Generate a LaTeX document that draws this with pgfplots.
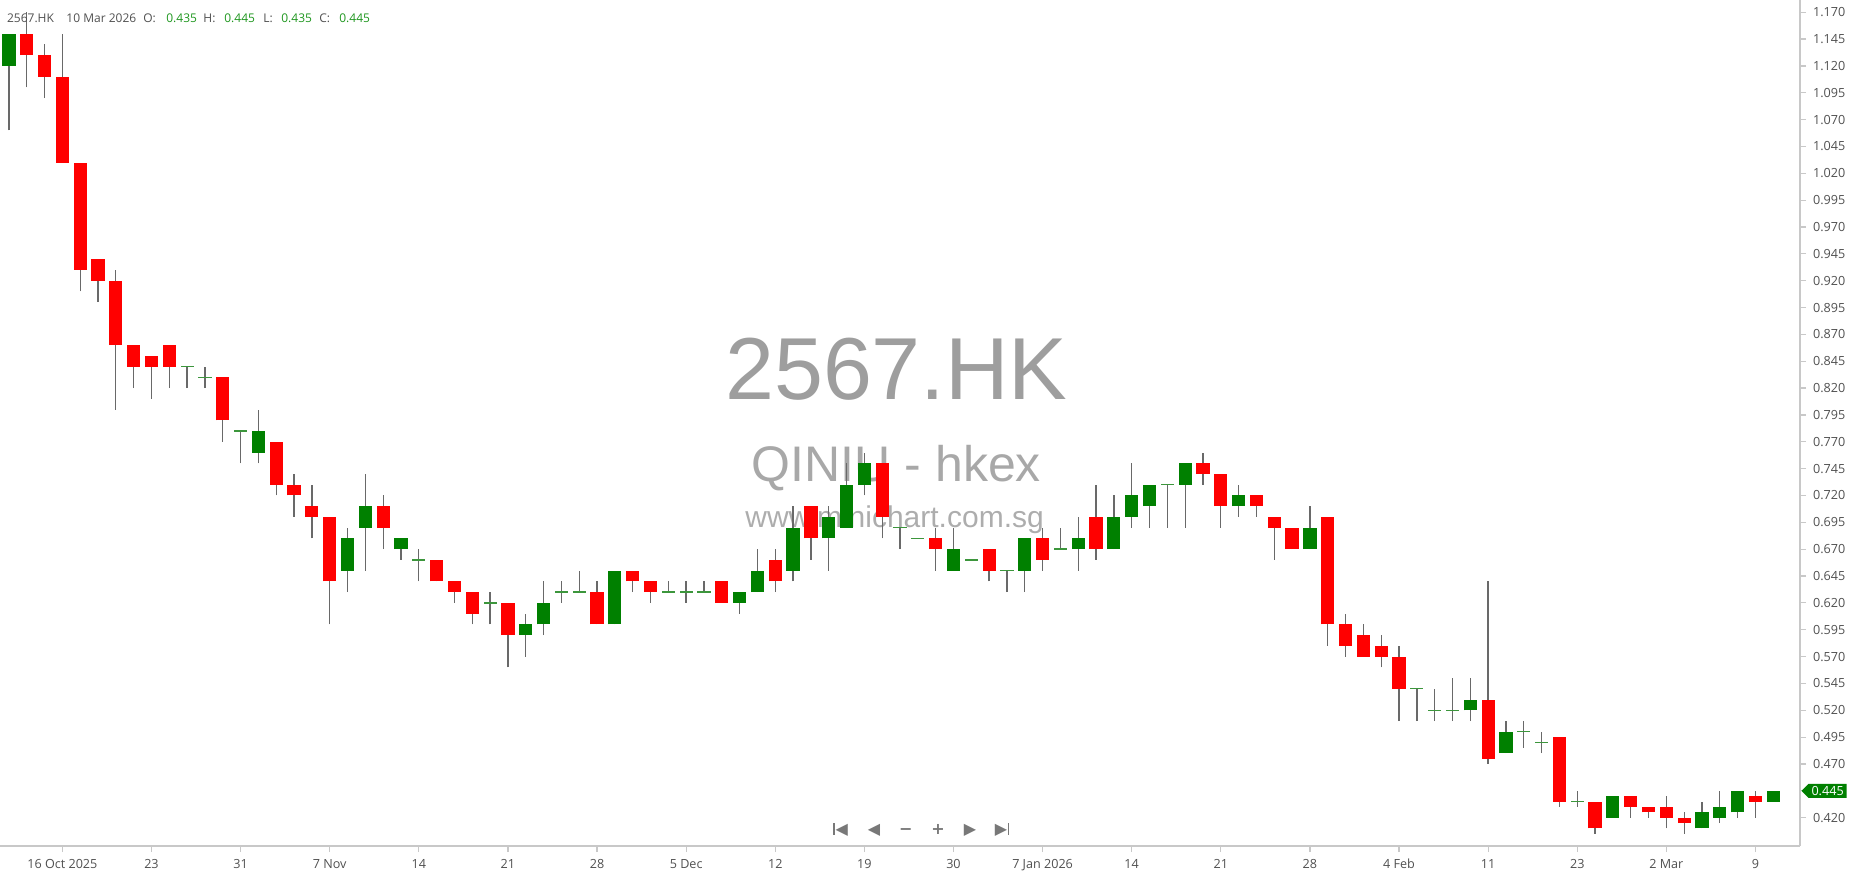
\documentclass[border=0pt]{standalone}
\usepackage{fontspec}
\setmainfont{Open Sans}
\newfontfamily\wmfont{Liberation Sans}
\newfontfamily\symfont{DejaVu Sans}
\usepackage{pgfplots}
\usepackage{pgfplotstable}
\pgfplotsset{compat=1.18}
\usetikzlibrary{shapes.symbols}

\definecolor{upgreen}{RGB}{0,128,0}
\definecolor{downred}{RGB}{255,0,0}
\definecolor{wick}{RGB}{105,105,105}
\definecolor{dojigreen}{RGB}{60,150,60}
\definecolor{axisgray}{RGB}{200,200,200}
\definecolor{labelgray}{RGB}{80,80,80}
\definecolor{hdrgreen}{RGB}{30,150,30}
\definecolor{wmgray}{RGB}{158,158,158}
\definecolor{navgray}{RGB}{120,120,120}

% daily candles, 13 Oct 2025 .. 10 Mar 2026 (trading-day index i)
\pgfplotstableread{
i  o     h     l     c
0  1.12  1.15  1.06  1.15
1  1.15  1.17  1.10  1.13
2  1.13  1.14  1.09  1.11
3  1.11  1.15  1.03  1.03
4  1.03  1.03  0.91  0.93
5  0.94  0.94  0.90  0.92
6  0.92  0.93  0.80  0.86
7  0.86  0.86  0.82  0.84
8  0.85  0.85  0.81  0.84
9  0.86  0.86  0.82  0.84
10 0.84  0.84  0.82  0.84
11 0.83  0.84  0.82  0.83
12 0.83  0.83  0.77  0.79
13 0.78  0.78  0.75  0.78
14 0.76  0.80  0.75  0.78
15 0.77  0.77  0.72  0.73
16 0.73  0.74  0.70  0.72
17 0.71  0.73  0.68  0.70
18 0.70  0.70  0.60  0.64
19 0.65  0.69  0.63  0.68
20 0.69  0.74  0.65  0.71
21 0.71  0.72  0.67  0.69
22 0.67  0.68  0.66  0.68
23 0.66  0.67  0.64  0.66
24 0.66  0.66  0.64  0.64
25 0.64  0.64  0.62  0.63
26 0.63  0.63  0.60  0.61
27 0.62  0.63  0.60  0.62
28 0.62  0.62  0.56  0.59
29 0.59  0.61  0.57  0.60
30 0.60  0.64  0.59  0.62
31 0.63  0.64  0.62  0.63
32 0.63  0.65  0.63  0.63
33 0.63  0.64  0.60  0.60
34 0.60  0.65  0.60  0.65
35 0.65  0.65  0.63  0.64
36 0.64  0.64  0.62  0.63
37 0.63  0.64  0.63  0.63
38 0.63  0.64  0.62  0.63
39 0.63  0.64  0.63  0.63
40 0.64  0.64  0.62  0.62
41 0.62  0.63  0.61  0.63
42 0.63  0.67  0.63  0.65
43 0.66  0.67  0.63  0.64
44 0.65  0.71  0.64  0.69
45 0.71  0.71  0.66  0.68
46 0.68  0.71  0.65  0.70
47 0.69  0.75  0.69  0.73
48 0.73  0.76  0.72  0.75
49 0.75  0.75  0.68  0.70
50 0.69  0.69  0.67  0.69
51 0.68  0.68  0.68  0.68
52 0.68  0.69  0.65  0.67
53 0.65  0.69  0.65  0.67
54 0.66  0.66  0.66  0.66
55 0.67  0.67  0.64  0.65
56 0.65  0.65  0.63  0.65
57 0.65  0.68  0.63  0.68
58 0.68  0.69  0.65  0.66
59 0.67  0.69  0.67  0.67
60 0.67  0.70  0.65  0.68
61 0.70  0.73  0.66  0.67
62 0.67  0.72  0.67  0.70
63 0.70  0.75  0.69  0.72
64 0.71  0.73  0.69  0.73
65 0.73  0.73  0.69  0.73
66 0.73  0.75  0.69  0.75
67 0.75  0.76  0.73  0.74
68 0.74  0.74  0.69  0.71
69 0.71  0.73  0.70  0.72
70 0.72  0.72  0.70  0.71
71 0.70  0.70  0.66  0.69
72 0.69  0.69  0.67  0.67
73 0.67  0.71  0.67  0.69
74 0.70  0.70  0.58  0.60
75 0.60  0.61  0.57  0.58
76 0.59  0.60  0.57  0.57
77 0.58  0.59  0.56  0.57
78 0.57  0.58  0.51  0.54
79 0.54  0.54  0.51  0.54
80 0.52  0.54  0.51  0.52
81 0.52  0.55  0.51  0.52
82 0.52  0.55  0.51  0.53
83 0.53  0.64  0.47  0.475
84 0.48  0.51  0.48  0.50
85 0.50  0.51  0.485 0.50
86 0.49  0.50  0.48  0.49
87 0.495 0.495 0.43  0.435
88 0.435 0.445 0.43  0.435
89 0.435 0.435 0.405 0.41
90 0.42  0.44  0.42  0.44
91 0.44  0.44  0.42  0.43
92 0.43  0.43  0.42  0.425
93 0.43  0.44  0.41  0.42
94 0.42  0.425 0.405 0.415
95 0.41  0.435 0.41  0.425
96 0.42  0.445 0.415 0.43
97 0.425 0.445 0.42  0.445
98 0.44  0.445 0.42  0.435
99 0.435 0.445 0.435 0.445
}\candles

\begin{document}
\begin{tikzpicture}
\path[use as bounding box] (0,0) rectangle (925pt,437pt);
\begin{axis}[
  at={(0,14pt)}, anchor=south west,
  scale only axis, width=900pt, height=423pt,
  xmin=-0.5, xmax=100.5, ymin=0.3936, ymax=1.1814,
  axis x line*=bottom, axis y line*=right,
  axis line style={draw=axisgray, line width=0.6pt},
  tick align=outside, major tick length=3pt,
  tick style={draw=axisgray, line width=0.6pt},
  xtick={3,8,13,18,23,28,33,38,43,48,53,58,63,68,73,78,83,88,93,98},
  xticklabels={16 Oct 2025,23,31,7 Nov,14,21,28,5 Dec,12,19,30,7 Jan 2026,14,21,28,4 Feb,11,23,2 Mar,9},
  ytick={0.420,0.445,0.470,0.495,0.520,0.545,0.570,0.595,0.620,0.645,0.670,0.695,0.720,0.745,0.770,0.795,0.820,0.845,0.870,0.895,0.920,0.945,0.970,0.995,1.020,1.045,1.070,1.095,1.120,1.145,1.170},
  scaled y ticks=false,
  /pgf/number format/assume math mode=true,
  yticklabel style={/pgf/number format/.cd, fixed, fixed zerofill, precision=3},
  ticklabel style={font=\fontsize{6.3}{7}\selectfont, text=labelgray},
  clip=false,
]
% watermark
\node[anchor=base, inner sep=0, text=wmgray, font=\wmfont\fontsize{44}{44}\selectfont] at (rel axis cs:0.498,0.528) {2567.HK};
\node[anchor=base, inner sep=0, text=wmgray!90, font=\wmfont\fontsize{25}{25}\selectfont] at (rel axis cs:0.498,0.431) {QINIU - hkex};
\node[anchor=base, inner sep=0, text=wmgray!85, font=\wmfont\fontsize{15}{15}\selectfont] at (rel axis cs:0.497,0.376) {www.minichart.com.sg};

% wicks
\addplot[draw=none, mark=none, error bars/.cd, y dir=plus, y explicit, error mark=none,
  error bar style={draw=wick, solid, line width=0.65pt}]
  table[x=i, y=l, y error expr=\thisrow{h}-\thisrow{l}] {\candles};
% falling bodies
\addplot[draw=none, mark=none, restrict expr to domain={\thisrow{c}-\thisrow{o}}{-1:-0.001},
  error bars/.cd, y dir=plus, y explicit, error mark=none,
  error bar style={draw=downred, solid, line width=6.6pt}]
  table[x=i, y=c, y error expr=\thisrow{o}-\thisrow{c}] {\candles};
% rising bodies
\addplot[draw=none, mark=none, restrict expr to domain={\thisrow{c}-\thisrow{o}}{0.001:1},
  error bars/.cd, y dir=plus, y explicit, error mark=none,
  error bar style={draw=upgreen, solid, line width=6.6pt}]
  table[x=i, y=o, y error expr=\thisrow{c}-\thisrow{o}] {\candles};
% unchanged (doji)
\addplot[draw=none, mark=none, restrict expr to domain={\thisrow{c}-\thisrow{o}}{-0.0001:0.0001},
  error bars/.cd, x dir=both, x fixed=0.37, error mark=none,
  error bar style={draw=dojigreen, solid, line width=0.7pt}]
  table[x=i, y=c] {\candles};

% header
\begin{scope}[every node/.style={anchor=base west, inner sep=0, font=\fontsize{6}{7}\selectfont}]
\node[text=labelgray] at (rel axis cs:0.0037,0.9732) {2567.HK};
\node[text=labelgray] at (rel axis cs:0.0367,0.9732) {10 Mar 2026};
\node[text=labelgray] at (rel axis cs:0.0794,0.9732) {O:};
\node[text=hdrgreen]  at (rel axis cs:0.0922,0.9732) {0.435};
\node[text=labelgray] at (rel axis cs:0.1128,0.9732) {H:};
\node[text=hdrgreen]  at (rel axis cs:0.1244,0.9732) {0.445};
\node[text=labelgray] at (rel axis cs:0.1461,0.9732) {L:};
\node[text=hdrgreen]  at (rel axis cs:0.1561,0.9732) {0.435};
\node[text=labelgray] at (rel axis cs:0.1772,0.9732) {C:};
\node[text=hdrgreen]  at (rel axis cs:0.1883,0.9732) {0.445};
\end{scope}

% navigation buttons
\begin{scope}[every node/.style={inner sep=0, text=navgray, font=\symfont\fontsize{8}{8}\selectfont}]
\node at (rel axis cs:0.467,0.0189) {\vphantom{◀}\rule[0pt]{0.8pt}{5.6pt}\kern0.3pt◀};
\node at (rel axis cs:0.4856,0.0189) {\vphantom{◀}◀};
\node at (rel axis cs:0.5033,0.0189) {\vphantom{◀}\textbf{−}};
\node at (rel axis cs:0.5211,0.0189) {\vphantom{◀}\textbf{+}};
\node at (rel axis cs:0.5389,0.0189) {\vphantom{◀}▶};
\node at (rel axis cs:0.5567,0.0189) {\vphantom{◀}▶\kern0.3pt\rule[0pt]{0.8pt}{5.6pt}};
\end{scope}

% last price tag
\node[signal, signal to=west, signal from=nowhere, fill=upgreen, text=white,
  inner xsep=1.5pt, inner ysep=1.2pt, anchor=west,
  font=\fontsize{6.3}{7}\selectfont] at (axis cs:100.55,0.445) {0.445};
\end{axis}
\end{tikzpicture}
\end{document}
